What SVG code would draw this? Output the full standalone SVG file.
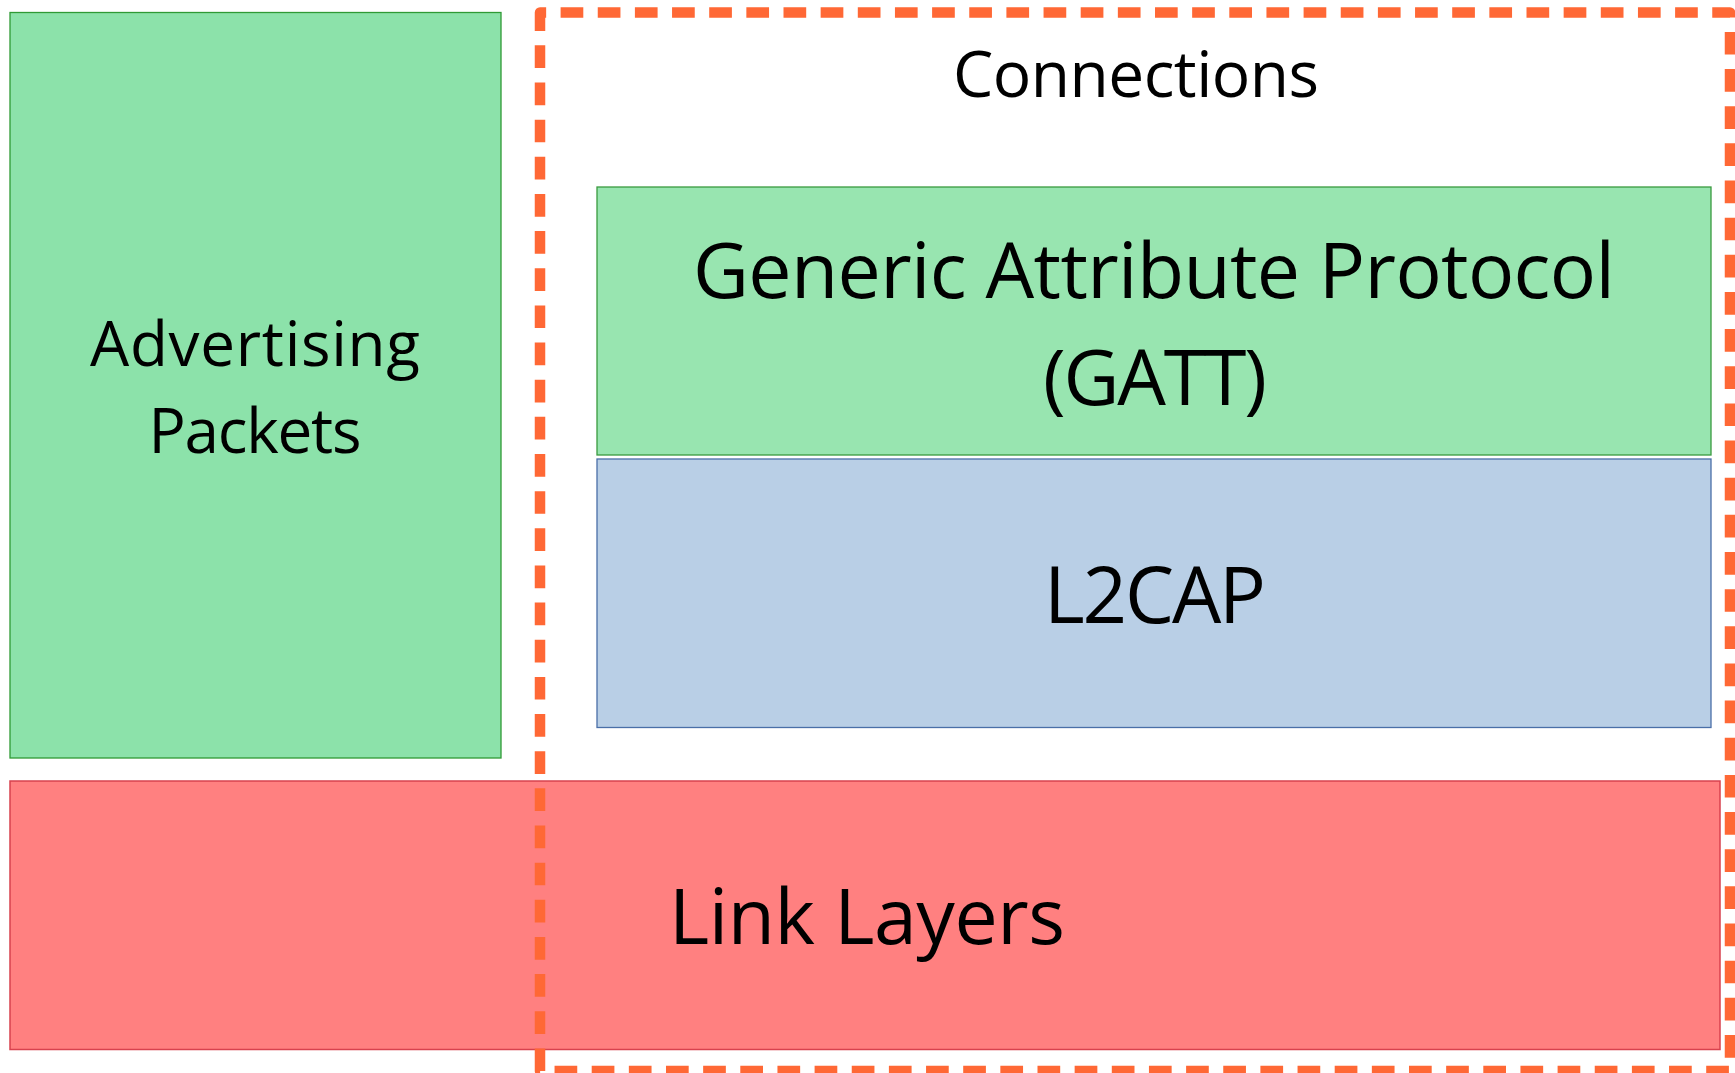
<svg xmlns="http://www.w3.org/2000/svg" width="1735" height="1073" viewBox="0 0 1735 1073">
  <style>
    .label { font-family: "Open Sans", "Noto Sans", "Liberation Sans", sans-serif; fill: #000; text-anchor: middle; }
    .adv { fill: #8ce2aa; stroke: #2f9a35; stroke-width: 1.3; }
    .gatt { fill: #98e5b0; stroke: #3a9a3f; stroke-width: 1.3; }
    .l2cap { fill: #b9cfe6; stroke: #4a6fa8; stroke-width: 1.3; }
    .link { fill: #ff8080; stroke: #d8424e; stroke-width: 1.5; }
    .group-box { fill: none; stroke: #ff6835; stroke-width: 10.5; stroke-dasharray: 22.7 14.45; stroke-dashoffset: 16.55; stroke-linejoin: round; }
  </style>

  <!-- Advertising packets (left column) -->
  <g id="advertising">
    <rect class="adv" x="10" y="12.5" width="491" height="745.5"/>
    <text class="label" font-size="62" x="255" y="366" textLength="330">Advertising</text>
    <text class="label" font-size="62" x="255" y="453" textLength="213">Packets</text>
  </g>

  <!-- GATT layer -->
  <g id="gatt">
    <rect class="gatt" x="597" y="187" width="1114" height="268"/>
    <text class="label" font-size="77" x="1154" y="298" textLength="922">Generic Attribute Protocol</text>
    <text class="label" font-size="77" x="1155" y="405" textLength="224">(GATT)</text>
  </g>

  <!-- L2CAP layer -->
  <g id="l2cap">
    <rect class="l2cap" x="597" y="459" width="1114" height="268.5"/>
    <text class="label" font-size="78" x="1155" y="623" textLength="222">L2CAP</text>
  </g>

  <!-- Link layers (full width base) -->
  <g id="link-layers">
    <rect class="link" x="10" y="781" width="1710" height="268.5"/>
    <text class="label" font-size="77" x="867" y="944" textLength="396">Link Layers</text>
  </g>

  <!-- Connections grouping (dashed outline) -->
  <g id="connections">
    <rect class="group-box" x="540" y="12.5" width="1190" height="1058.5"/>
    <text class="label" font-size="64" x="1136" y="97" textLength="366">Connections</text>
  </g>

  <g id="connectors"/>
</svg>
